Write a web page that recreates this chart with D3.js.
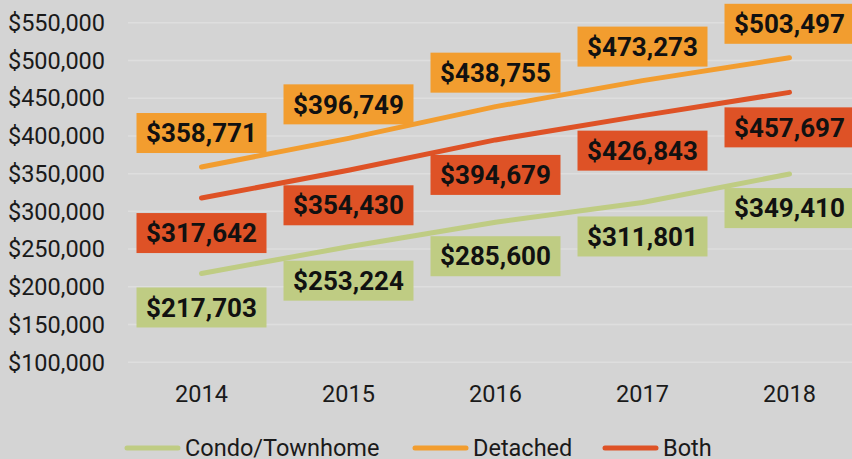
<!DOCTYPE html>
<html>
<head>
<meta charset="utf-8">
<script src="https://cdn.jsdelivr.net/npm/d3@7"></script>
<style>
  html, body { margin: 0; padding: 0; background: #d4d4d4; }
  svg { display: block; font-family: Roboto, "Noto Sans", sans-serif; }
</style>
</head>
<body>
<div class="chart"></div>
<script>
var years = ["2014", "2015", "2016", "2017", "2018"];
var condo = [217703, 253224, 285600, 311801, 349410];
var detached = [358771, 396749, 438755, 473273, 503497];
var both = [317642, 354430, 394679, 426843, 457697];
var yTicks = [100000, 150000, 200000, 250000, 300000, 350000, 400000, 450000, 500000, 550000];

var series = [
    { name: "Condo/Townhome", values: condo, color: "#bfcc83", labelDy: 34 },
    { name: "Detached", values: detached, color: "#f29d2f", labelDy: -34 },
    { name: "Both", values: both, color: "#de5226", labelDy: 35 }
];

var width = 852, height = 459;

var svg = d3.select(".chart").append("svg")
    .attr("width", width)
    .attr("height", height);

svg.append("rect")
    .attr("width", width)
    .attr("height", height)
    .attr("fill", "#d4d4d4");

var x = d3.scaleBand().domain(years).range([128, 863]);
var y = d3.scaleLinear().domain([100000, 550000]).range([362.3, 22.7]);
var money = function(v) { return "$" + d3.format(",")(v); };

// gridlines
svg.append("g").selectAll("line").data(yTicks).enter().append("line")
    .attr("x1", 128)
    .attr("x2", width)
    .attr("y1", function(d) { return y(d); })
    .attr("y2", function(d) { return y(d); })
    .attr("stroke", "#dedede")
    .attr("stroke-width", 1.5);

// y axis labels
svg.append("g").selectAll("text").data(yTicks).enter().append("text")
    .attr("x", 105)
    .attr("y", function(d) { return y(d) + 8.3; })
    .attr("text-anchor", "end")
    .attr("font-size", 23.5)
    .attr("fill", "#1a1a1a")
    .text(money);

// x axis labels
svg.append("g").selectAll("text").data(years).enter().append("text")
    .attr("x", function(d) { return x(d) + x.bandwidth() / 2; })
    .attr("y", 401.7)
    .attr("text-anchor", "middle")
    .attr("font-size", 23.5)
    .attr("fill", "#1a1a1a")
    .text(function(d) { return d; });

var line = d3.line()
    .x(function(d, i) { return x(years[i]) + x.bandwidth() / 2; })
    .y(function(d) { return y(d); });

for (var i = 0; i < series.length; ++i) {
    svg.append("path")
        .attr("d", line(series[i].values))
        .attr("fill", "none")
        .attr("stroke", series[i].color)
        .attr("stroke-width", 5)
        .attr("stroke-linecap", "round")
        .attr("stroke-linejoin", "round");
}

// data labels
for (var i = 0; i < series.length; ++i) {
    var s = series[i];
    var g = svg.append("g").selectAll("g").data(s.values).enter().append("g")
        .attr("transform", function(d, j) {
            return "translate(" + (x(years[j]) + x.bandwidth() / 2) + "," + (y(d) + s.labelDy) + ")";
        });
    g.append("rect")
        .attr("x", -65)
        .attr("y", -20)
        .attr("width", 130)
        .attr("height", 40)
        .attr("fill", s.color);
    g.append("text")
        .attr("y", 9.2)
        .attr("text-anchor", "middle")
        .attr("font-size", 26)
        .attr("font-weight", "bold")
        .attr("fill", "#111")
        .text(money);
}

// legend
var legendX = [125, 413, 603];
var legend = svg.append("g").selectAll("g").data(series).enter().append("g")
    .attr("transform", function(d, i) { return "translate(" + legendX[i] + ",448)"; });
legend.append("line")
    .attr("x1", 2)
    .attr("x2", 53)
    .attr("stroke", function(d) { return d.color; })
    .attr("stroke-width", 5)
    .attr("stroke-linecap", "round");
legend.append("text")
    .attr("x", 60)
    .attr("y", 8.3)
    .attr("font-size", 23.5)
    .attr("fill", "#1a1a1a")
    .text(function(d) { return d.name; });
</script>
</body>
</html>
